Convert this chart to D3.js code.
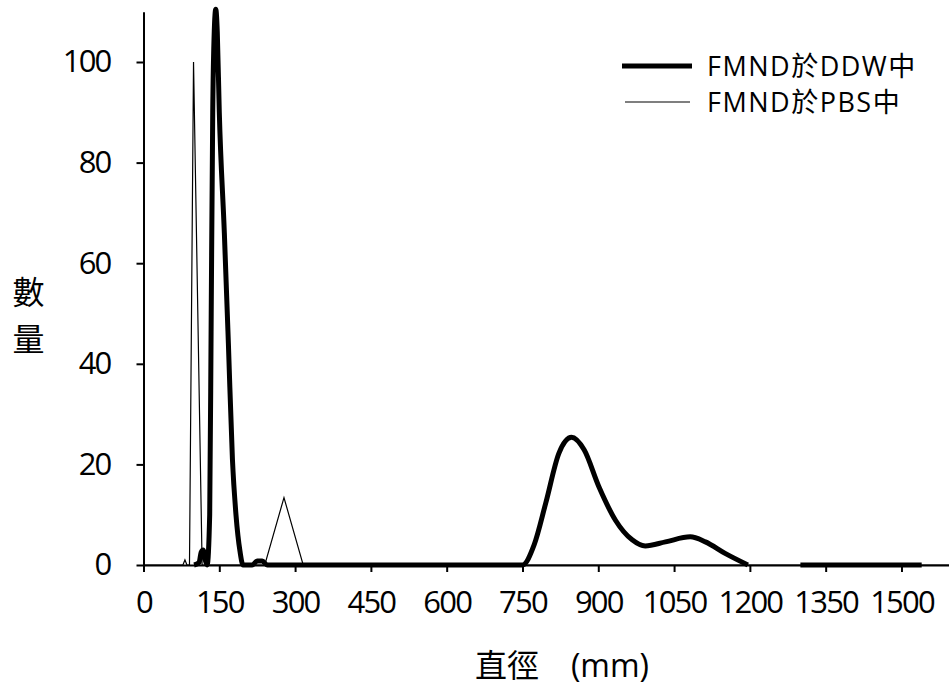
<!DOCTYPE html>
<html>
<head>
<meta charset="utf-8">
<script src="https://cdn.jsdelivr.net/npm/d3@7"></script>
<style>
body { margin: 0; background: #fff; }
text { font-family: "Open Sans", "Noto Sans CJK TC", sans-serif; fill: #000; }
</style>
</head>
<body>
<div id="my_dataviz"></div>
<script>
// data (diameter, count); null = gap in the line
var ddwX = [100, 110, 114, 118, 122, 126, 131, 134, 137, 140, 143, 146, 150, 160, 168, 176, 183, 191, 197, 215, 225, 235, 245, 750,
            773, 796, 822, 847, 872, 901, 934, 967, 993, 1033, 1082, 1112, 1151, 1196, 1250, 1300, 1540];
var ddwY = [0, 0.5, 2.5, 3, 1, 0, 10, 50, 90, 106, 110.5, 106, 90, 66, 44, 21, 10, 2.7, 0, 0, 0.8, 0.8, 0, 0,
            4, 12.3, 22.2, 25.4, 22.9, 15.6, 8.9, 5, 3.8, 4.6, 5.6, 4.6, 2.3, 0, null, 0, 0];
var pbsX = [0, 78, 82, 86, 91, 99, 116, 240, 278, 316, 1600];
var pbsY = [0, 0, 1, 0, 0, 100, 0, 0, 13.4, 0, 0];

var xTicks = [0, 150, 300, 450, 600, 750, 900, 1050, 1200, 1350, 1500];
var yTicks = [0, 20, 40, 60, 80, 100];
var seriesNames = ["FMND於DDW中", "FMND於PBS中"];

var width = 949, height = 693;

var svg = d3.select("#my_dataviz").append("svg")
    .attr("width", width)
    .attr("height", height);

var x = d3.scaleLinear().domain([0, 1600]).range([143.5, 952]);
var y = d3.scaleLinear().domain([0, 110]).range([565, 11.7]);

// axes
var xAxis = svg.append("g")
    .attr("transform", "translate(0," + y(0) + ")")
    .call(d3.axisBottom(x).tickValues(xTicks).tickFormat(d3.format("d")).tickSize(7).tickSizeOuter(0));
xAxis.selectAll("text")
    .attr("y", 48).attr("dy", null)
    .style("font-size", "31px").style("letter-spacing", "-1.8px");

var yAxis = svg.append("g")
    .attr("transform", "translate(" + x(0) + ",0)")
    .call(d3.axisLeft(y).tickValues(yTicks).tickSize(7).tickSizeOuter(0).tickPadding(26));
yAxis.selectAll("text")
    .style("font-size", "31px").style("letter-spacing", "-1.8px");

svg.selectAll(".domain").attr("stroke", "#000").attr("stroke-width", 2);
svg.selectAll(".tick line").attr("stroke", "#000").attr("stroke-width", 2);

// lines
var ddw = ddwX.map(function(d, i) { return [d, ddwY[i]]; });
var pbs = pbsX.map(function(d, i) { return [d, pbsY[i]]; });

var thinLine = d3.line()
    .x(function(d) { return x(d[0]); })
    .y(function(d) { return y(d[1]); });

var thickLine = d3.line()
    .defined(function(d) { return d[1] != null; })
    .curve(d3.curveMonotoneX)
    .x(function(d) { return x(d[0]); })
    .y(function(d) { return y(d[1]); });

svg.append("path")
    .attr("d", thinLine(pbs))
    .attr("fill", "none")
    .attr("stroke", "#000")
    .attr("stroke-width", 1.2);

svg.append("path")
    .attr("d", thickLine(ddw))
    .attr("fill", "none")
    .attr("stroke", "#000")
    .attr("stroke-width", 5)
    .attr("stroke-linejoin", "round");

// legend
var legend = svg.append("g");
legend.append("line")
    .attr("x1", 622).attr("x2", 692).attr("y1", 66).attr("y2", 66)
    .attr("stroke", "#000").attr("stroke-width", 5);
legend.append("line")
    .attr("x1", 625).attr("x2", 690).attr("y1", 102).attr("y2", 102)
    .attr("stroke", "#000").attr("stroke-width", 1.2);
legend.selectAll(".lab")
    .data(seriesNames)
    .enter().append("text")
    .attr("x", 707)
    .attr("y", function(d, i) { return 76 + i * 36; })
    .style("font-size", "27px")
    .style("letter-spacing", "1.5px")
    .text(function(d) { return d; });

// axis titles
svg.append("text")
    .attr("x", 562).attr("y", 677)
    .attr("text-anchor", "middle")
    .style("font-size", "32px")
    .text("直徑　(mm)");

svg.selectAll(".ytitle")
    .data(["數", "量"])
    .enter().append("text")
    .attr("x", 28.5)
    .attr("y", function(d, i) { return 304 + i * 47; })
    .attr("text-anchor", "middle")
    .style("font-size", "32px")
    .text(function(d) { return d; });
</script>
</body>
</html>
